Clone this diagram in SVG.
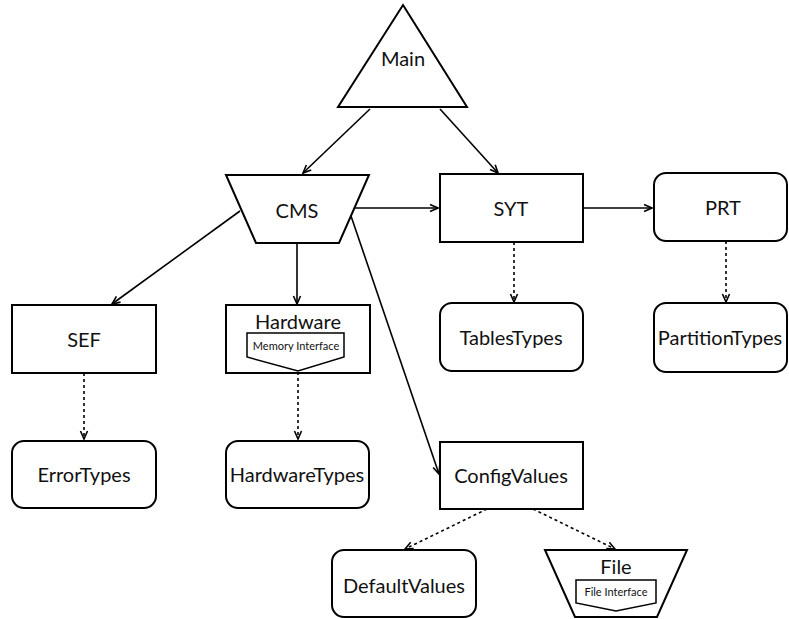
<svg xmlns="http://www.w3.org/2000/svg" width="789" height="619" viewBox="0 0 789 619">
  <style>
    .shape { fill: #ffffff; stroke: #000000; stroke-width: 2; }
    .label { font-family: Lato, "Open Sans", sans-serif; font-size: 20px; fill: #111111; text-anchor: middle; dominant-baseline: central; }
    .small { font-family: Lato, "Open Sans", sans-serif; font-size: 11px; fill: #111111; text-anchor: middle; dominant-baseline: central; }
    .edge { fill: none; stroke: #000000; stroke-width: 1.6; }
    .solid { marker-end: url(#arrow); }
    .dashed { stroke-dasharray: 3 3; marker-end: url(#arrow); }
  </style>
  <defs>
    <marker id="arrow" viewBox="0 0 10 10" refX="9" refY="5" markerWidth="10" markerHeight="10" markerUnits="userSpaceOnUse" orient="auto">
      <path d="M1,1.5 L9,5 L1,8.5" fill="none" stroke="#000000" stroke-width="1.6"/>
    </marker>
  </defs>

  <rect width="789" height="619" fill="#ffffff"/>

  <g id="connectors">
    <line class="edge solid" x1="370" y1="109" x2="303" y2="173"/>
    <line class="edge solid" x1="440" y1="109" x2="498" y2="173"/>
    <line class="edge solid" x1="354" y1="208" x2="438" y2="208"/>
    <line class="edge solid" x1="583" y1="208" x2="652" y2="208"/>
    <line class="edge solid" x1="240" y1="211" x2="112" y2="304"/>
    <line class="edge solid" x1="297" y1="243" x2="297" y2="304"/>
    <line class="edge solid" x1="351" y1="216" x2="439" y2="474"/>
    <line class="edge dashed" x1="84" y1="373" x2="84" y2="439"/>
    <line class="edge dashed" x1="298" y1="372" x2="298" y2="439"/>
    <line class="edge dashed" x1="514" y1="242" x2="514" y2="302"/>
    <line class="edge dashed" x1="726" y1="241" x2="726" y2="302"/>
    <line class="edge dashed" x1="487" y1="509" x2="405" y2="549"/>
    <line class="edge dashed" x1="533" y1="509" x2="615" y2="549"/>
  </g>

  <g id="main">
    <polygon class="shape" points="403,5 467,107 338,107"/>
    <text class="label" x="403" y="58">Main</text>
  </g>

  <g id="cms">
    <polygon class="shape" points="226,175 369,175 339,243 256,243"/>
    <text class="label" x="297" y="210">CMS</text>
  </g>

  <g id="syt">
    <rect class="shape" x="440" y="174" width="143" height="68"/>
    <text class="label" x="511" y="208">SYT</text>
  </g>

  <g id="prt">
    <rect class="shape" x="654" y="173" width="133" height="68" rx="12"/>
    <text class="label" x="723" y="207">PRT</text>
  </g>

  <g id="sef">
    <rect class="shape" x="12" y="305" width="144" height="68"/>
    <text class="label" x="84" y="339">SEF</text>
  </g>

  <g id="hardware">
    <rect class="shape" x="226" y="305" width="144" height="68"/>
    <text class="label" x="298" y="321">Hardware</text>
    <polygon class="shape" style="stroke-width:1.5" points="247,333 344,333 344,357 298,371 247,357"/>
    <text class="small" x="296" y="345">Memory Interface</text>
  </g>

  <g id="tables-types">
    <rect class="shape" x="440" y="303" width="143" height="68" rx="12"/>
    <text class="label" x="511" y="337">TablesTypes</text>
  </g>

  <g id="partition-types">
    <rect class="shape" x="654" y="303" width="133" height="69" rx="12"/>
    <text class="label" x="720" y="337">PartitionTypes</text>
  </g>

  <g id="error-types">
    <rect class="shape" x="12" y="441" width="144" height="67" rx="12"/>
    <text class="label" x="84" y="474">ErrorTypes</text>
  </g>

  <g id="hardware-types">
    <rect class="shape" x="226" y="441" width="143" height="67" rx="12"/>
    <text class="label" x="297" y="474">HardwareTypes</text>
  </g>

  <g id="config-values">
    <rect class="shape" x="440" y="442" width="143" height="67"/>
    <text class="label" x="511" y="475">ConfigValues</text>
  </g>

  <g id="default-values">
    <rect class="shape" x="332" y="550" width="144" height="67" rx="12"/>
    <text class="label" x="404" y="585">DefaultValues</text>
  </g>

  <g id="file">
    <polygon class="shape" points="545,550 687,550 657,617 575,617"/>
    <text class="label" x="616" y="566">File</text>
    <polygon class="shape" style="stroke-width:1.5" points="576,580 656,580 656,603 616,611 576,603"/>
    <text class="small" x="616" y="591">File Interface</text>
  </g>
</svg>
